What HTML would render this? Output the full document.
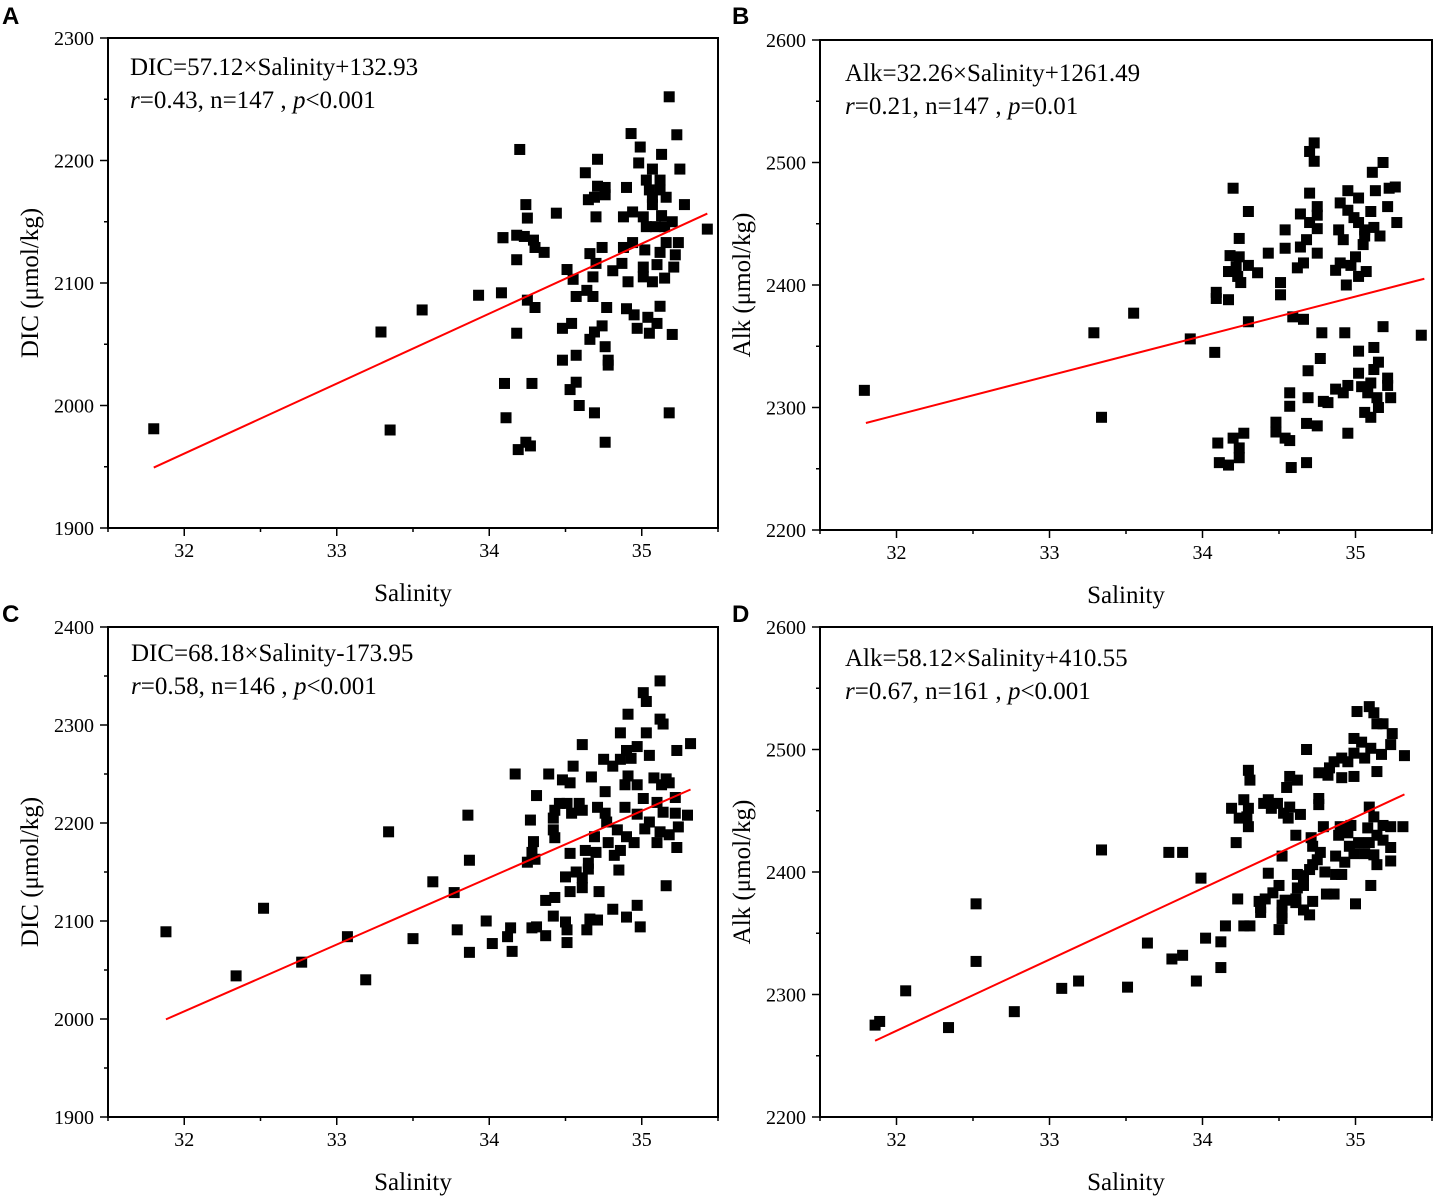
<!DOCTYPE html>
<html><head><meta charset="utf-8"><style>
html,body{margin:0;padding:0;background:#fff;}
svg{display:block;}
text{font-family:"Liberation Serif",serif;fill:#000;}
.lbl{font-family:"Liberation Sans",sans-serif;font-weight:bold;font-size:24px;}
</style></head><body>
<svg id="fig" width="1438" height="1202" viewBox="0 0 1438 1202"></svg>
<script>
// Panel A data
const aSal=[31.80,33.29,33.35,33.56,33.93,34.09,35.18,34.93,34.99,35.23,34.20,35.13,34.71,34.98,34.63,35.07,35.25,35.03,35.12,34.71,34.76,34.90,35.05,35.12,34.69,35.07,35.16,34.65,34.76,35.28,34.24,35.07,34.25,34.44,34.70,34.88,34.94,35.01,35.13,35.20,35.43,35.03,35.09,35.15,34.09,34.18,34.23,34.29,34.30,34.36,34.18,34.74,34.88,34.94,35.02,35.12,35.16,35.24,35.22,34.66,34.70,34.87,35.01,35.10,35.21,34.51,34.81,34.55,34.68,34.91,35.01,35.07,35.15,34.08,34.57,34.64,34.68,34.25,34.30,34.77,34.90,34.95,35.04,35.12,35.10,34.97,35.05,35.20,34.18,34.54,34.48,34.74,34.69,34.66,34.76,34.78,34.78,34.57,34.48,34.10,34.28,34.57,34.53,34.59,34.69,35.18,34.11,34.24,34.27,34.19,34.76];
const aDic=[1981,2060,1980,2078,2090,2137,2252,2222,2211,2221,2209,2205,2201,2198,2190,2193,2193,2184,2184,2179,2178,2178,2176,2176,2170,2170,2170,2168,2172,2164,2164,2164,2153,2157,2154,2154,2158,2154,2155,2150,2144,2146,2146,2146,2137,2139,2138,2135,2129,2125,2119,2129,2129,2133,2127,2125,2133,2133,2123,2124,2116,2116,2113,2115,2113,2111,2110,2103,2105,2101,2105,2101,2104,2092,2089,2094,2089,2086,2080,2080,2079,2074,2072,2081,2067,2063,2059,2058,2059,2067,2063,2065,2060,2054,2048,2037,2033,2041,2037,2018,2018,2019,2013,2000,1994,1994,1990,1970,1967,1964,1970];
// Panel B data
const bSal=[31.79,33.29,33.34,33.55,33.92,35.43,34.08,34.73,34.70,34.73,35.18,35.11,34.20,34.95,35.02,35.13,35.22,35.26,34.70,34.90,34.75,35.21,34.30,34.64,34.95,35.10,34.75,34.99,34.70,35.02,35.27,34.54,34.75,34.89,35.06,35.12,34.24,34.92,35.06,35.16,34.68,35.05,34.64,34.54,34.43,34.75,34.18,34.24,35.00,34.66,34.90,34.97,34.30,34.22,34.17,34.36,34.62,34.87,35.07,35.02,34.23,34.25,34.51,34.94,34.09,34.09,34.17,34.51,34.30,34.59,34.66,34.78,34.93,35.18,35.02,35.12,34.77,35.15,34.69,35.02,35.12,35.21,34.95,34.87,35.04,35.10,35.21,34.57,34.69,34.79,34.82,34.92,35.08,35.14,35.23,34.57,35.15,35.06,35.10,34.48,34.48,34.68,34.75,34.95,34.27,34.20,34.10,34.54,34.57,34.24,34.24,34.11,34.17,34.68,34.58];
const bAlk=[2314,2361,2292,2377,2356,2359,2345,2516,2509,2501,2500,2492,2479,2477,2471,2477,2479,2480,2475,2467,2464,2464,2460,2458,2461,2460,2457,2455,2451,2451,2451,2445,2446,2445,2445,2447,2438,2437,2440,2440,2437,2433,2431,2430,2426,2426,2424,2423,2423,2418,2418,2416,2416,2415,2411,2410,2414,2412,2411,2407,2407,2402,2402,2400,2394,2389,2388,2392,2370,2374,2372,2361,2361,2366,2346,2349,2340,2337,2330,2328,2331,2324,2318,2315,2317,2320,2318,2312,2308,2305,2304,2312,2312,2308,2308,2301,2300,2296,2292,2288,2280,2287,2285,2279,2279,2275,2271,2275,2273,2267,2259,2255,2253,2255,2251];
// Panel C data
const cSal=[31.88,32.34,32.52,32.77,33.07,33.19,33.34,33.50,33.63,33.77,33.79,33.87,33.86,33.87,35.12,35.01,35.03,34.91,35.12,35.14,34.86,35.03,34.61,35.32,35.23,34.90,34.97,35.05,34.75,34.86,34.93,34.55,34.81,34.17,34.39,34.67,35.08,35.16,34.91,34.48,34.53,34.89,34.97,35.13,35.18,34.76,34.31,35.01,34.46,34.51,34.59,34.71,34.89,35.10,35.22,34.43,34.54,34.61,35.14,35.22,34.97,35.30,34.42,34.76,34.27,34.77,35.05,34.42,34.84,35.02,35.12,35.24,34.43,34.69,34.90,35.18,34.29,34.78,34.95,35.10,35.23,34.28,34.53,34.63,34.70,34.86,34.82,34.25,34.30,34.65,34.65,34.85,34.57,34.50,34.61,35.16,34.53,34.61,34.72,34.37,34.43,34.81,34.97,34.42,34.90,33.98,34.50,34.66,34.71,34.14,34.28,34.31,34.51,34.99,34.37,34.64,34.12,34.02,34.51,34.15];
const cDic=[2089,2044,2113,2058,2084,2040,2191,2082,2140,2129,2091,2162,2208,2068,2345,2333,2324,2311,2306,2301,2292,2292,2280,2281,2274,2274,2278,2269,2265,2265,2266,2258,2258,2250,2250,2247,2246,2245,2248,2244,2241,2239,2239,2239,2241,2232,2228,2225,2220,2220,2220,2216,2216,2221,2226,2213,2210,2213,2211,2210,2209,2208,2205,2210,2203,2201,2201,2193,2193,2194,2191,2196,2185,2186,2186,2188,2181,2180,2180,2180,2175,2170,2169,2172,2170,2172,2167,2160,2163,2159,2153,2152,2150,2145,2144,2136,2130,2134,2130,2121,2124,2112,2116,2105,2104,2100,2099,2102,2101,2093,2093,2094,2091,2094,2085,2091,2084,2077,2078,2069];
// Panel D data
const dSal=[31.86,31.89,32.06,32.34,32.52,32.52,32.77,33.08,33.19,33.34,33.51,33.64,33.78,33.80,33.87,33.87,33.99,33.96,34.02,34.12,34.12,35.01,35.09,35.12,35.14,35.18,35.24,34.99,35.04,35.23,34.68,35.10,35.17,35.32,34.99,35.06,34.91,34.95,34.86,34.83,34.30,34.76,35.14,34.57,34.82,34.99,34.91,34.31,34.62,34.55,34.76,34.27,34.43,34.40,34.49,34.76,34.57,34.19,34.30,34.45,35.09,34.53,34.64,34.24,34.29,35.12,34.56,34.97,34.90,34.79,35.18,35.31,35.23,35.08,34.30,34.61,34.89,34.95,35.14,35.18,34.71,34.22,35.02,35.09,35.23,34.72,34.96,34.77,34.99,35.06,34.52,34.87,35.12,34.75,34.93,35.23,35.14,34.72,34.43,34.80,34.87,34.91,34.62,34.66,34.70,35.10,34.66,34.50,34.62,34.46,34.81,34.86,34.23,34.41,34.37,34.61,34.54,34.72,35.00,34.52,34.38,34.61,34.66,34.52,34.70,34.38,34.52,34.15,34.27,34.31,34.50];
const dAlk=[2275,2278,2303,2273,2374,2327,2286,2305,2311,2418,2306,2342,2416,2329,2416,2332,2395,2311,2346,2343,2322,2531,2535,2530,2521,2521,2513,2509,2506,2504,2500,2501,2496,2495,2497,2493,2493,2490,2490,2485,2483,2481,2482,2478,2479,2478,2477,2475,2475,2469,2460,2459,2459,2456,2456,2455,2453,2452,2452,2452,2453,2448,2447,2444,2445,2445,2444,2438,2437,2437,2438,2437,2437,2436,2437,2430,2430,2432,2430,2426,2428,2424,2424,2424,2420,2421,2421,2416,2415,2415,2413,2413,2414,2410,2408,2409,2406,2406,2399,2400,2398,2398,2398,2397,2402,2389,2389,2389,2387,2383,2382,2382,2378,2378,2376,2378,2377,2376,2374,2373,2371,2375,2369,2367,2365,2367,2362,2356,2356,2356,2353];
// Regression coefficients [slope, intercept]
const aFit=[57.12,132.93], bFit=[32.26,1261.49], cFit=[68.18,-173.95], dFit=[58.12,410.55];
const xTicks=[32,33,34,35];
const abYTicksA=[1900,2000,2100,2200,2300];
const yTicksB=[2200,2300,2400,2500,2600];
const yTicksC=[1900,2000,2100,2200,2300,2400];

const NS='http://www.w3.org/2000/svg';
const svg=document.getElementById('fig');
function mk(tag,attrs,parent){const e=document.createElementNS(NS,tag);for(const k in attrs)e.setAttribute(k,attrs[k]);(parent||svg).appendChild(e);return e;}

function panel(p){
  const g=mk('g',{});
  
  
  const L=p.x0,R=p.x1,T=p.y0,B=p.y1;
  const sx=v=>L+(v-31.5)/(35.5-31.5)*(R-L);
  const sy=v=>B-(v-p.ymin)/(p.ymax-p.ymin)*(B-T);
  const lab=mk('text',{x:p.lx,y:p.ly,class:'lbl'},g);lab.textContent=p.id;
  
  
  const yt=mk('g',{},g);
  
  
  p.yt.forEach((v,i)=>{
    const y=sy(v);
    mk('line',{x1:L-8,x2:L,y1:y,y2:y,stroke:'#000','stroke-width':1.5},yt);
    if(i<p.yt.length-1){const ym=sy(v+(p.yt[1]-p.yt[0])/2);mk('line',{x1:L-4,x2:L,y1:ym,y2:ym,stroke:'#000','stroke-width':1.5},yt);}
    const t=mk('text',{x:L-14,y:y+7,'text-anchor':'end','font-size':20},yt);t.textContent=v;
    
    
  });
  const xt=mk('g',{},g);
  
  
  for(let v=31.5;v<=35.5;v+=0.5){
    const x=sx(v),maj=Number.isInteger(v);
    mk('line',{x1:x,x2:x,y1:B,y2:B+(maj?8:4),stroke:'#000','stroke-width':1.5},xt);
  }
  xTicks.forEach(v=>{const t=mk('text',{x:sx(v),y:B+29,'text-anchor':'middle','font-size':20},xt);t.textContent=v;
    
    });
  const xtt=mk('text',{x:(L+R)/2,y:B+73,'text-anchor':'middle','font-size':25},g);xtt.textContent='Salinity';
  
  
  const cy=(T+B)/2;
  const ytt=mk('text',{x:p.ytx,y:cy,'text-anchor':'middle','font-size':25,transform:`rotate(-90 ${p.ytx} ${cy})`},g);ytt.textContent=p.ytitle;
  
  
  const pts=mk('g',{},g);
  
  
  p.xs.forEach((s,i)=>{
    const r=mk('rect',{x:sx(s)-5.5,y:sy(p.ys[i])-5.5,width:11,height:11,fill:'#000'},pts);
    
    
  });
  const ln=mk('line',{x1:sx(p.fx[0]),y1:sy(p.fit[0]*p.fx[0]+p.fit[1]),x2:sx(p.fx[1]),y2:sy(p.fit[0]*p.fx[1]+p.fit[1]),stroke:'#f00','stroke-width':2},g);
  
  
  const fr=mk('rect',{x:L,y:T,width:R-L,height:B-T,fill:'none',stroke:'#000','stroke-width':2},g);
  
  
  const e1=mk('text',{x:p.ex,y:p.ey,'font-size':25},g);e1.textContent=p.eq;
  
  
  const e2=mk('text',{x:p.ex,y:p.ey+33,'font-size':25},g);
  
  
  e2.innerHTML=`<tspan font-style="italic">r</tspan>=${p.r}, n=${p.n} , <tspan font-style="italic">p</tspan>${p.p}`;
}

panel({id:'A',x0:108,x1:718,y0:38,y1:528,ymin:1900,ymax:2300,yt:abYTicksA,lx:2,ly:24,ytx:38,ytitle:'DIC (μmol/kg)',xs:aSal,ys:aDic,fit:aFit,fx:[31.8,35.43],ex:130,ey:75,eq:'DIC=57.12×Salinity+132.93',r:'0.43',n:147,p:'<0.001'});
panel({id:'B',x0:820,x1:1432,y0:40,y1:530,ymin:2200,ymax:2600,yt:yTicksB,lx:732,ly:24,ytx:750,ytitle:'Alk (μmol/kg)',xs:bSal,ys:bAlk,fit:bFit,fx:[31.8,35.45],ex:845,ey:81,eq:'Alk=32.26×Salinity+1261.49',r:'0.21',n:147,p:'=0.01'});
panel({id:'C',x0:108,x1:718,y0:627,y1:1117,ymin:1900,ymax:2400,yt:yTicksC,lx:2,ly:622,ytx:38,ytitle:'DIC (μmol/kg)',xs:cSal,ys:cDic,fit:cFit,fx:[31.88,35.32],ex:131,ey:661,eq:'DIC=68.18×Salinity-173.95',r:'0.58',n:146,p:'<0.001'});
panel({id:'D',x0:820,x1:1432,y0:627,y1:1117,ymin:2200,ymax:2600,yt:yTicksB,lx:732,ly:622,ytx:750,ytitle:'Alk (μmol/kg)',xs:dSal,ys:dAlk,fit:dFit,fx:[31.86,35.32],ex:845,ey:666,eq:'Alk=58.12×Salinity+410.55',r:'0.67',n:161,p:'<0.001'});
</script>
</body></html>
